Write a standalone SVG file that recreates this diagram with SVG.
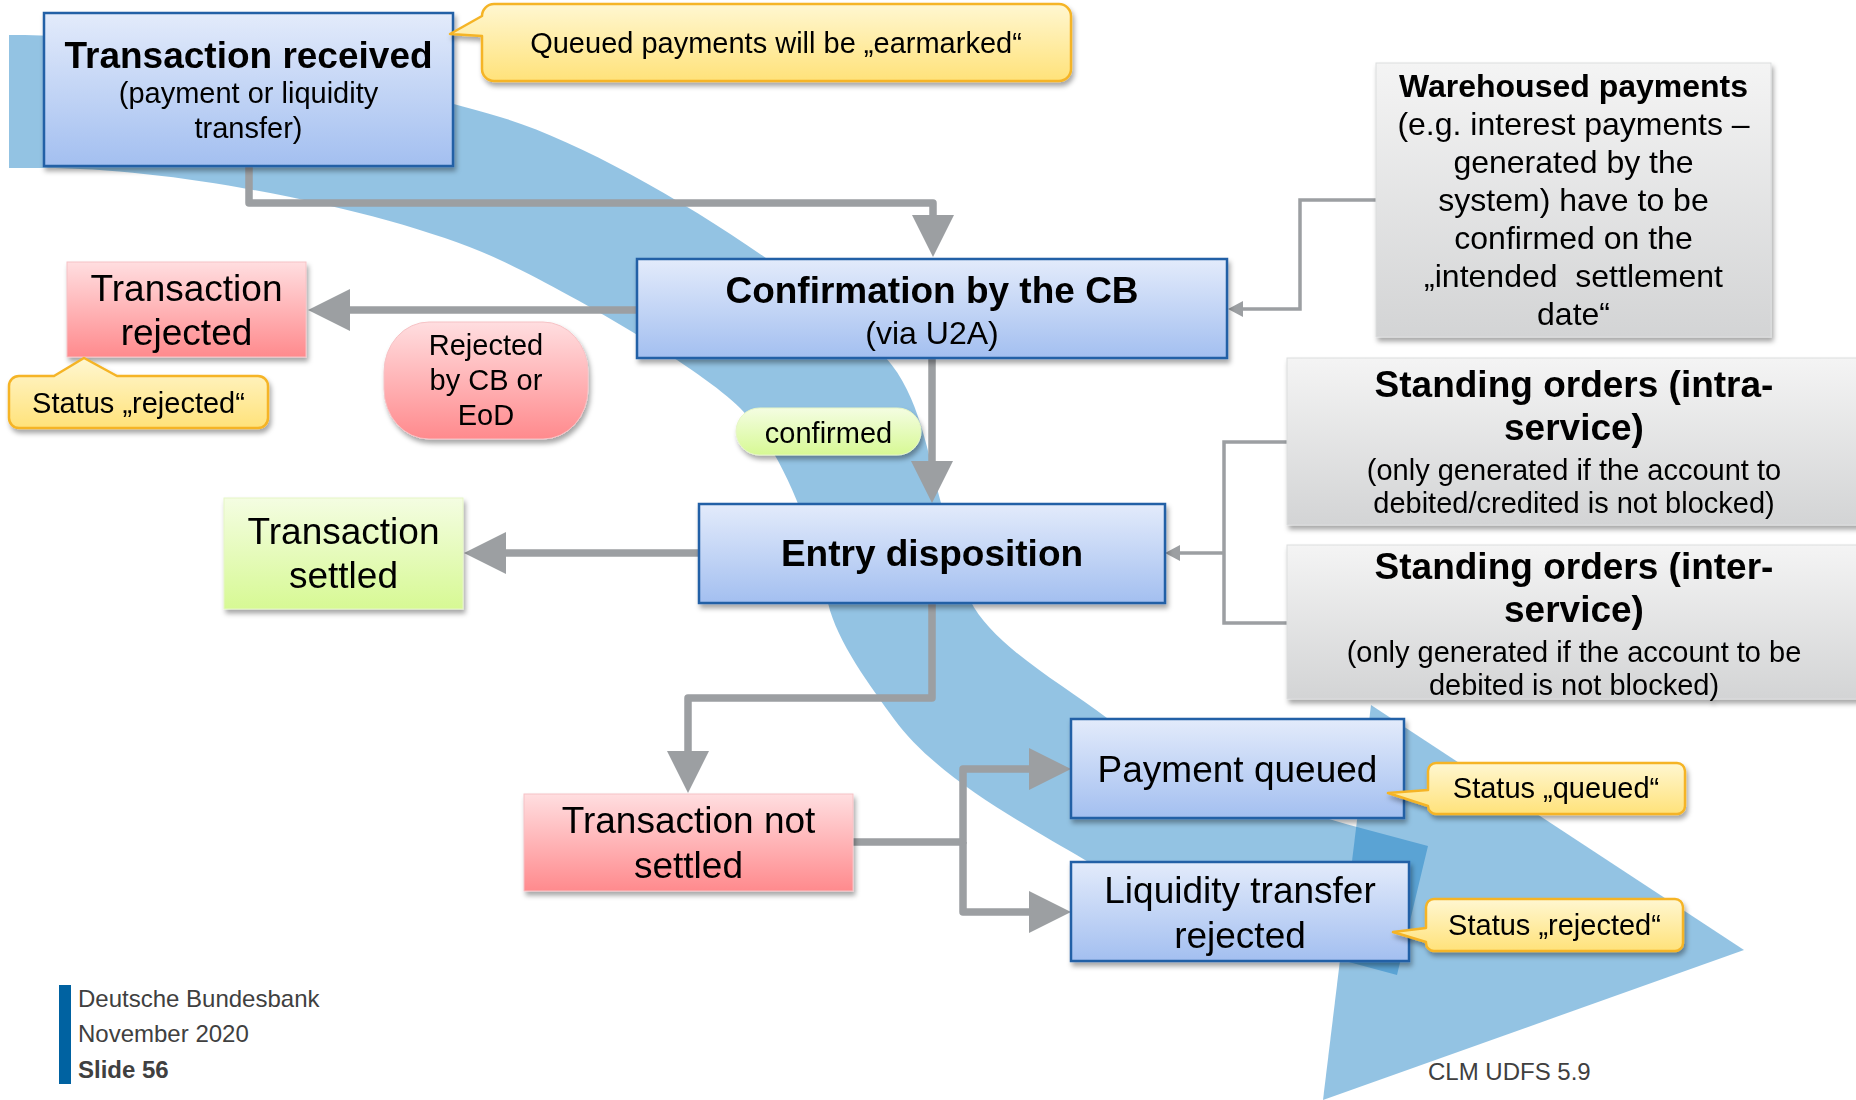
<svg xmlns="http://www.w3.org/2000/svg" width="1856" height="1100" viewBox="0 0 1856 1100">
  <style>
    .t { font-family: 'Liberation Sans', Arial, sans-serif; fill: #000; text-anchor: middle; }
    .b { font-weight: bold; }
    .f37 { font-size: 37px; }
    .f32 { font-size: 32px; }
    .f29 { font-size: 29px; }
    .foot { font-family: 'Liberation Sans', Arial, sans-serif; font-size: 24px; fill: #404040; }
    .blue { fill: url(#gBlue); stroke: #2361A6; stroke-width: 2.5; }
    .pink { fill: url(#gPink); stroke: #F6C2C5; stroke-width: 1; }
    .green { fill: url(#gGreen); stroke: #E6F6C6; stroke-width: 1; }
    .grey { fill: url(#gGrey); stroke: #DCDDDE; stroke-width: 1; }
    .note { fill: url(#gYellow); stroke: #F5B425; stroke-width: 2.5; stroke-linejoin: round; }
    .thick { fill: none; stroke: #9C9FA2; stroke-width: 7.5; stroke-linejoin: round; }
    .thin { fill: none; stroke: #9C9FA2; stroke-width: 3.5; }
    .sweep { fill: #1A7FC3; fill-opacity: 0.47; }
  </style>
  <defs>
    <linearGradient id="gBlue" x1="0" y1="0" x2="0" y2="1">
      <stop offset="0" stop-color="#E3EBFB"/>
      <stop offset="1" stop-color="#A3BFF0"/>
    </linearGradient>
    <linearGradient id="gPink" x1="0" y1="0" x2="0" y2="1">
      <stop offset="0" stop-color="#FFDEE0"/>
      <stop offset="1" stop-color="#FF8A8D"/>
    </linearGradient>
    <linearGradient id="gGreen" x1="0" y1="0" x2="0" y2="1">
      <stop offset="0" stop-color="#F4FDE2"/>
      <stop offset="1" stop-color="#D7F994"/>
    </linearGradient>
    <linearGradient id="gGrey" x1="0" y1="0" x2="0" y2="1">
      <stop offset="0" stop-color="#F4F4F4"/>
      <stop offset="1" stop-color="#D3D4D5"/>
    </linearGradient>
    <linearGradient id="gYellow" x1="0" y1="0" x2="0" y2="1">
      <stop offset="0" stop-color="#FFF7D1"/>
      <stop offset="1" stop-color="#FFE27A"/>
    </linearGradient>
    <filter id="sh" x="-10%" y="-10%" width="130%" height="140%">
      <feDropShadow dx="2" dy="4" stdDeviation="2.5" flood-color="#000" flood-opacity="0.35"/>
    </filter>
    <marker id="ah" viewBox="0 0 42 42" markerWidth="42" markerHeight="42" refX="22" refY="21" orient="auto" markerUnits="userSpaceOnUse">
      <path d="M0,0 L42,21 L0,42 Z" fill="#9C9FA2"/>
    </marker>
    <marker id="ahs" viewBox="0 0 15 16" markerWidth="15" markerHeight="16" refX="8" refY="8" orient="auto" markerUnits="userSpaceOnUse">
      <path d="M0,0 L15,8 L0,16 Z" fill="#9C9FA2"/>
    </marker>
  </defs>

  <!-- background process sweep arrow -->
  <g id="sweep">
    <path class="sweep" d="M9,35 C200,35 390,85 500,117 C615,151 812,277 886,358 C919.5,395 928,454.5 941,503 C954,550 962,580 970,600 C992,645 1059,682 1107,718 C1171,766 1280,806 1357,827 L1428,846 L1397,975 L1345,961 C1258,938 1162,905 1085,860 C1025,825 935,776 894,719 C871,687 837,642 828,603 C812.6,534.4 785.5,454 740,408 C701.5,369 572,294 500,260 C410,217 193,168 43,168 L9,168 Z"/>
    <path class="sweep" d="M1371,705 L1744,950 L1323,1100 Z"/>
  </g>

  <!-- connectors -->
  <g id="connectors">
    <path class="thick" d="M249,166 V203 H933 V237" marker-end="url(#ah)"/>
    <path class="thick" d="M637,310 H328" marker-end="url(#ah)"/>
    <path class="thick" d="M932,358 V483" marker-end="url(#ah)"/>
    <path class="thick" d="M699,553 H484" marker-end="url(#ah)"/>
    <path class="thick" d="M932,603 V698 H688 V773" marker-end="url(#ah)"/>
    <path class="thick" d="M853,842 H963 V769 H1051" marker-end="url(#ah)"/>
    <path class="thick" d="M963,842 V912 H1051" marker-end="url(#ah)"/>
    <path class="thin" d="M1376,200 H1300 V309 H1235" marker-end="url(#ahs)"/>
    <path class="thin" d="M1287,442 H1224 V623 H1287"/>
    <path class="thin" d="M1224,553 H1172" marker-end="url(#ahs)"/>
  </g>

  <!-- process steps -->
  <g id="n-received" filter="url(#sh)">
    <rect class="blue" x="44" y="13" width="409" height="153"/>
    <text class="t b f37" x="248.5" y="68">Transaction received</text>
    <text class="t f29" x="248.5" y="103">(payment or liquidity</text>
    <text class="t f29" x="248.5" y="138">transfer)</text>
  </g>

  <g id="n-confirm" filter="url(#sh)">
    <rect class="blue" x="637" y="259" width="590" height="99"/>
    <text class="t b f37" x="932" y="303">Confirmation by the CB</text>
    <text class="t f32" x="932" y="344">(via U2A)</text>
  </g>

  <g id="n-entry" filter="url(#sh)">
    <rect class="blue" x="699" y="504" width="466" height="99"/>
    <text class="t b f37" x="932" y="566">Entry disposition</text>
  </g>

  <g id="n-rejected" filter="url(#sh)">
    <rect class="pink" x="67" y="262" width="239" height="95"/>
    <text class="t f37" x="186.5" y="301">Transaction</text>
    <text class="t f37" x="186.5" y="345">rejected</text>
  </g>

  <g id="n-rejected-by" filter="url(#sh)">
    <rect class="pink" x="384" y="322" width="204" height="117" rx="45" ry="50"/>
    <text class="t f29" x="486" y="355">Rejected</text>
    <text class="t f29" x="486" y="390">by CB or</text>
    <text class="t f29" x="486" y="425">EoD</text>
  </g>

  <g id="n-confirmed" filter="url(#sh)">
    <rect class="green" x="736" y="408" width="185" height="47" rx="23.5"/>
    <text class="t f29" x="828.5" y="443">confirmed</text>
  </g>

  <g id="n-settled" filter="url(#sh)">
    <rect class="green" x="224" y="498" width="239" height="111"/>
    <text class="t f37" x="343.5" y="544">Transaction</text>
    <text class="t f37" x="343.5" y="588">settled</text>
  </g>

  <g id="n-not-settled" filter="url(#sh)">
    <rect class="pink" x="524" y="794" width="329" height="97"/>
    <text class="t f37" x="688.5" y="833">Transaction not</text>
    <text class="t f37" x="688.5" y="878">settled</text>
  </g>

  <g id="n-queued" filter="url(#sh)">
    <rect class="blue" x="1071" y="719" width="333" height="99"/>
    <text class="t f37" x="1237.5" y="782">Payment queued</text>
  </g>

  <g id="n-lt-rejected" filter="url(#sh)">
    <rect class="blue" x="1071" y="862" width="338" height="99"/>
    <text class="t f37" x="1240" y="903">Liquidity transfer</text>
    <text class="t f37" x="1240" y="948">rejected</text>
  </g>

  <!-- sources feeding the flow -->
  <g id="n-warehoused" filter="url(#sh)">
    <rect class="grey" x="1376" y="63" width="395" height="274"/>
    <text class="t b f32" x="1573.5" y="97">Warehoused payments</text>
    <text class="t f32" x="1573.5" y="135">(e.g. interest payments –</text>
    <text class="t f32" x="1573.5" y="173">generated by the</text>
    <text class="t f32" x="1573.5" y="211">system) have to be</text>
    <text class="t f32" x="1573.5" y="249">confirmed on the</text>
    <text class="t f32" x="1573.5" y="287" xml:space="preserve">„intended  settlement</text>
    <text class="t f32" x="1573.5" y="325">date“</text>
  </g>

  <g id="n-so-intra" filter="url(#sh)">
    <rect class="grey" x="1287" y="358" width="580" height="167"/>
    <text class="t b f37" x="1574" y="397">Standing orders (intra-</text>
    <text class="t b f37" x="1574" y="440">service)</text>
    <text class="t f29" x="1574" y="480">(only generated if the account to</text>
    <text class="t f29" x="1574" y="513">debited/credited is not blocked)</text>
  </g>

  <g id="n-so-inter" filter="url(#sh)">
    <rect class="grey" x="1287" y="545" width="580" height="154"/>
    <text class="t b f37" x="1574" y="579">Standing orders (inter-</text>
    <text class="t b f37" x="1574" y="622">service)</text>
    <text class="t f29" x="1574" y="662">(only generated if the account to be</text>
    <text class="t f29" x="1574" y="695">debited is not blocked)</text>
  </g>

  <!-- status callouts -->
  <g id="c-earmarked" filter="url(#sh)">
    <path class="note" d="M494,4 H1059 A12,12 0 0 1 1071,16 V69 A12,12 0 0 1 1059,81 H494 A12,12 0 0 1 482,69 V36 L450,34 L482,16 A12,12 0 0 1 494,4 Z"/>
    <text class="t f29" x="776" y="53">Queued payments will be „earmarked“</text>
  </g>

  <g id="c-status-rejected-left" filter="url(#sh)">
    <path class="note" d="M19,376 H54 L84,358 L117,376 H258 A10,10 0 0 1 268,386 V418 A10,10 0 0 1 258,428 H19 A10,10 0 0 1 9,418 V386 A10,10 0 0 1 19,376 Z"/>
    <text class="t f29" x="138.5" y="413">Status „rejected“</text>
  </g>

  <g id="c-status-queued" filter="url(#sh)">
    <path class="note" d="M1436,763 H1677 A8,8 0 0 1 1685,771 V806 A8,8 0 0 1 1677,814 H1436 A8,8 0 0 1 1428,806 L1388,793 L1428,790 V771 A8,8 0 0 1 1436,763 Z"/>
    <text class="t f29" x="1556" y="798">Status „queued“</text>
  </g>

  <g id="c-status-rejected-right" filter="url(#sh)">
    <path class="note" d="M1434,899 H1675 A8,8 0 0 1 1683,907 V943 A8,8 0 0 1 1675,951 H1434 A8,8 0 0 1 1426,943 V942 L1393,932 L1426,928 V907 A8,8 0 0 1 1434,899 Z"/>
    <text class="t f29" x="1554.5" y="935">Status „rejected“</text>
  </g>

  <!-- footer -->
  <g id="footer">
    <rect x="59" y="985" width="12" height="99" fill="#0062A1"/>
    <text class="foot" x="78" y="1007">Deutsche Bundesbank</text>
    <text class="foot" x="78" y="1042">November 2020</text>
    <text class="foot" x="78" y="1078" font-weight="bold">Slide 56</text>
    <text class="foot" x="1428" y="1080" fill="#1A1A1A">CLM UDFS 5.9</text>
  </g>
</svg>
